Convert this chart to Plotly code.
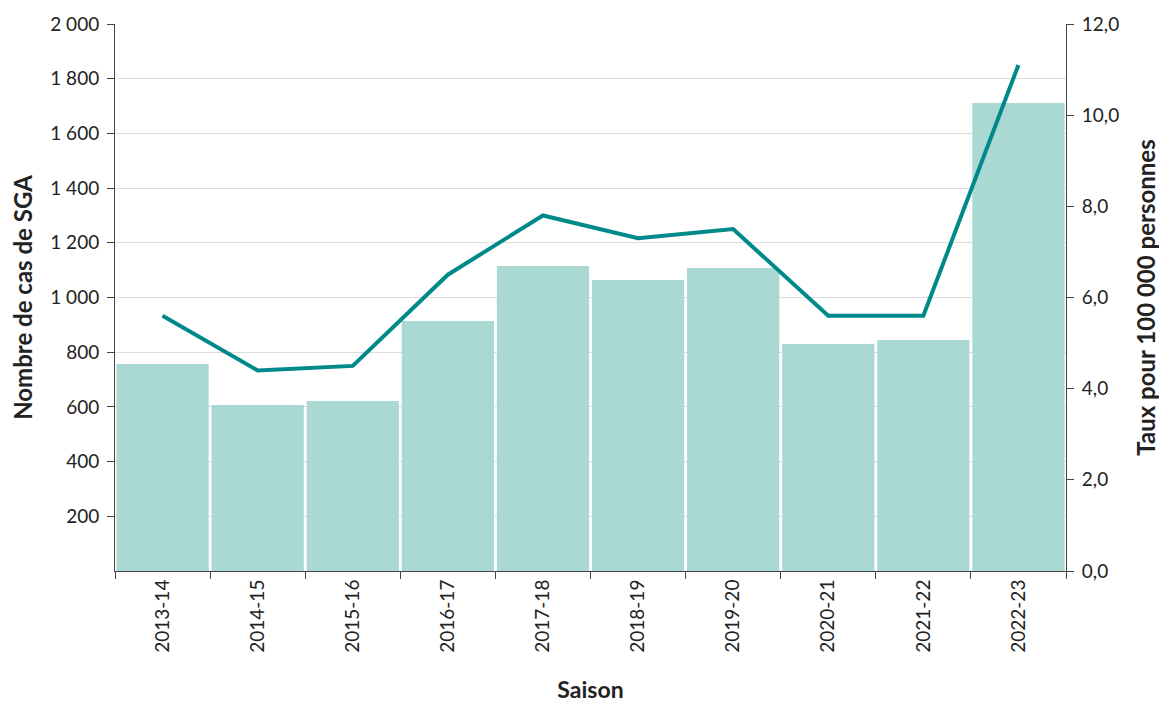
import plotly.graph_objects as go

saisons = ['2013-14', '2014-15', '2015-16', '2016-17', '2017-18',
           '2018-19', '2019-20', '2020-21', '2021-22', '2022-23']
nombre_cas = [757, 607, 622, 914, 1115, 1064, 1108, 830, 845, 1711]
taux = [5.6, 4.4, 4.5, 6.5, 7.8, 7.3, 7.5, 5.6, 5.6, 11.1]

gauche_ticks = [200, 400, 600, 800, 1000, 1200, 1400, 1600, 1800, 2000]
droite_ticks = [0, 2, 4, 6, 8, 10, 12]

fig = go.Figure()

fig.add_trace(go.Bar(
    x=saisons,
    y=nombre_cas,
    name='Nombre de cas',
    marker_color='#A9D9D2',
    marker_line_width=0,
))

fig.add_trace(go.Scatter(
    x=saisons,
    y=taux,
    name='Taux',
    mode='lines',
    line=dict(color='#00898A', width=4),
    yaxis='y2',
))

police = 'Lato, Open Sans, sans-serif'

# la page ajoute une marge de 8 px autour du graphique : figure un peu plus petite
fig.update_layout(
    width=1159,
    height=699,
    margin=dict(l=107, r=101, t=16, b=136),
    plot_bgcolor='white',
    paper_bgcolor='white',
    showlegend=False,
    bargap=0.03,
    separators=', ',
    font=dict(family=police, size=19, color='#222222'),
    xaxis=dict(
        type='category',
        automargin=False,
        tickson='boundaries',
        ticks='outside',
        ticklen=7,
        tickcolor='#444444',
        tickangle=-90,
        showline=True,
        linecolor='#444444',
        linewidth=1,
        showgrid=False,
        title=dict(text='<b>Saison</b>', font=dict(size=23), standoff=30),
    ),
    yaxis=dict(
        range=[0, 2000],
        automargin=False,
        tickvals=gauche_ticks,
        tickformat=',d',
        ticks='outside',
        ticklen=7,
        ticklabelstandoff=4,
        tickcolor='#444444',
        showline=True,
        linecolor='#444444',
        linewidth=1,
        showgrid=True,
        gridcolor='#DDDDDD',
        zeroline=False,
        title=dict(text='<b>Nombre de cas de SGA</b>', font=dict(size=24), standoff=12),
    ),
    yaxis2=dict(
        overlaying='y',
        side='right',
        automargin=False,
        range=[0, 12],
        tickvals=droite_ticks,
        tickformat='.1f',
        ticks='outside',
        ticklen=7,
        ticklabelstandoff=4,
        tickcolor='#444444',
        showline=True,
        linecolor='#444444',
        linewidth=1,
        showgrid=False,
        zeroline=False,
        title=dict(text='<b>Taux pour 100 000 personnes</b>', font=dict(size=24), standoff=20),
    ),
)

fig.write_html("out.html")
